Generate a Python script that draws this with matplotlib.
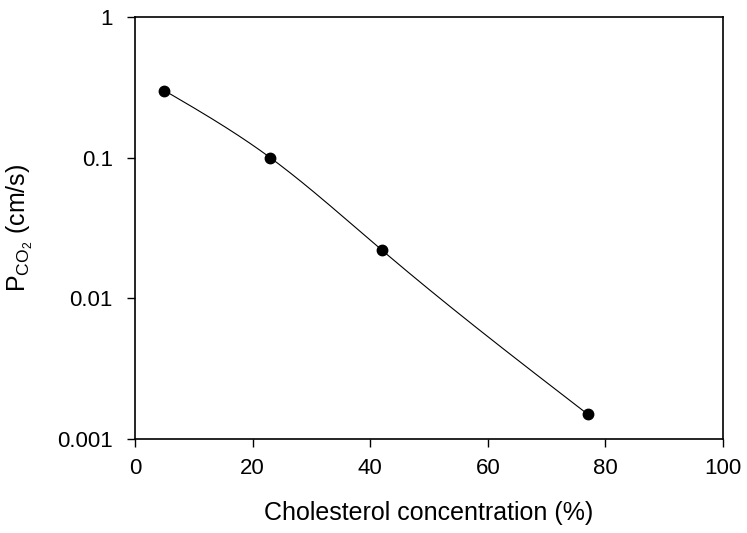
import numpy as np
import matplotlib
matplotlib.use("Agg")
import matplotlib.pyplot as plt

plt.rcParams['font.family'] = ['Liberation Sans', 'DejaVu Sans']
plt.rcParams['mathtext.fontset'] = 'custom'
plt.rcParams['mathtext.rm'] = 'Liberation Sans'
plt.rcParams['mathtext.it'] = 'Liberation Sans'

cholesterol = [5, 23, 42, 77]
pco2 = [0.3, 0.1, 0.022, 0.0015]
xticks = [0, 20, 40, 60, 80, 100]
yticks = [0.001, 0.01, 0.1, 1]
yticklabels = ['0.001', '0.01', '0.1', '1']


def natural_spline(x, y, xs):
    x = np.asarray(x, float); y = np.asarray(y, float)
    n = len(x)
    h = np.diff(x)
    A = np.zeros((n, n)); b = np.zeros(n)
    A[0, 0] = 1; A[-1, -1] = 1
    for i in range(1, n - 1):
        A[i, i - 1] = h[i - 1]
        A[i, i] = 2 * (h[i - 1] + h[i])
        A[i, i + 1] = h[i]
        b[i] = 3 * ((y[i + 1] - y[i]) / h[i] - (y[i] - y[i - 1]) / h[i - 1])
    c = np.linalg.solve(A, b)
    out = np.empty_like(xs)
    for k, xv in enumerate(xs):
        i = min(max(np.searchsorted(x, xv) - 1, 0), n - 2)
        dx = xv - x[i]
        bi = (y[i + 1] - y[i]) / h[i] - h[i] * (2 * c[i] + c[i + 1]) / 3
        di = (c[i + 1] - c[i]) / (3 * h[i])
        out[k] = y[i] + bi * dx + c[i] * dx ** 2 + di * dx ** 3
    return out


fig = plt.figure(figsize=(7.47, 5.33), dpi=100)
ax = fig.add_axes([135 / 747, 1 - 439 / 533, 588 / 747, 422 / 533])

xs = np.linspace(cholesterol[0], cholesterol[-1], 300)
ys = 10 ** natural_spline(cholesterol, np.log10(pco2), xs)
ax.plot(xs, ys, color='black', lw=0.8)
ax.plot(cholesterol, pco2, 'o', color='black', ms=7.5)

ax.set_yscale('log')
ax.set_xlim(0, 100)
ax.set_ylim(0.001, 1)
ax.set_xticks(xticks)
ax.set_yticks(yticks)
ax.set_yticklabels(yticklabels)
ax.yaxis.set_minor_locator(matplotlib.ticker.NullLocator())
ax.tick_params(axis='both', labelsize=16, direction='out', length=6, width=1)
ax.tick_params(axis='x', pad=8)
ax.tick_params(axis='y', pad=10)
for s in ax.spines.values():
    s.set_linewidth(1.2)

ax.set_xlabel('Cholesterol concentration (%)', fontsize=18)
ax.set_ylabel(r'P$_{\mathrm{CO}_2}$ (cm/s)', fontsize=18)
ax.xaxis.set_label_coords(0.5, (439 - 513) / 422)
ax.xaxis.label.set_va('center')
ax.yaxis.set_label_coords((20 - 135) / 588, 0.5)
ax.yaxis.label.set_va('center')

fig.savefig('out.png', dpi=100)
